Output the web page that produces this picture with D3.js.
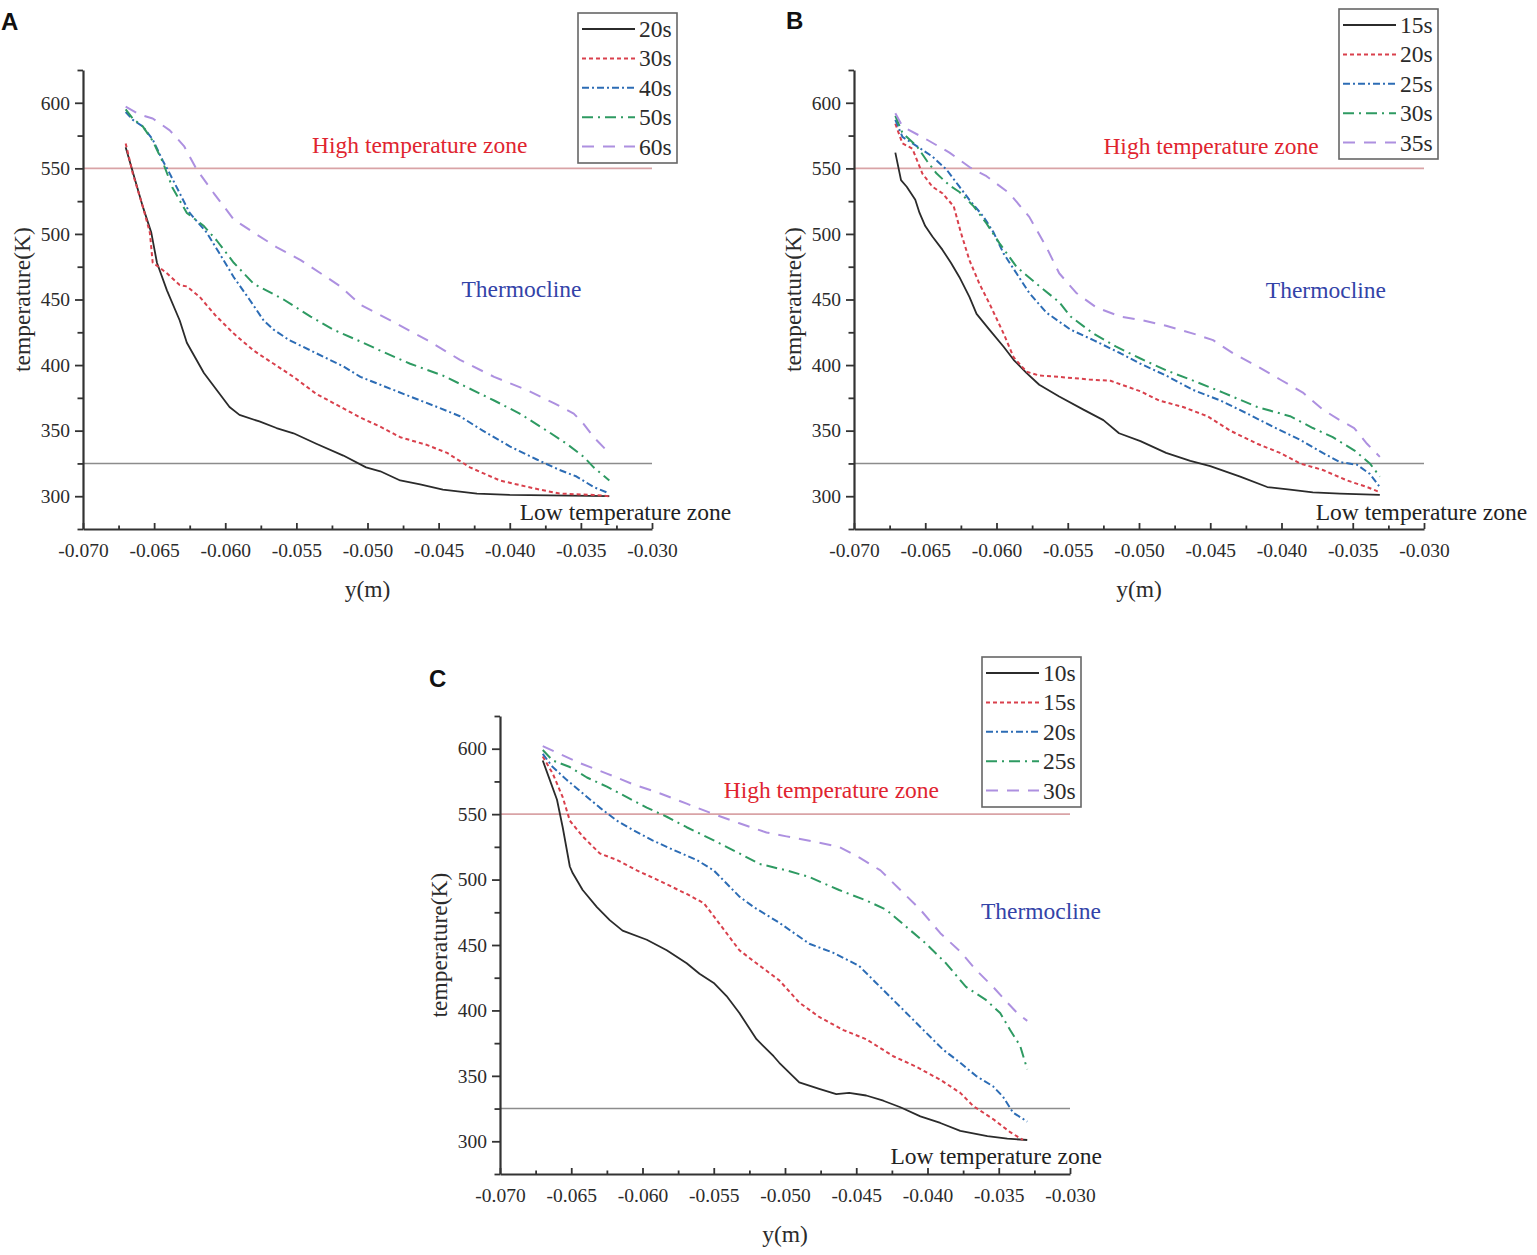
<!DOCTYPE html>
<html>
<head>
<meta charset="utf-8">
<script src="https://cdn.jsdelivr.net/npm/d3@7"></script>
<style>
    body { margin: 0; background: #fff; }
    svg text { font-family: "Liberation Serif", "Times New Roman", serif; fill: #2b2b2b; }
    .panel-letter { font-family: "Liberation Sans", Arial, sans-serif; font-weight: bold; fill: #111; }
</style>
</head>
<body>
<svg id="fig" width="1537" height="1255"></svg>
<script>
// axis values
var xDomain = [-0.070, -0.030];
var yDomain = [275, 625];
var xTicks = [-0.070, -0.065, -0.060, -0.055, -0.050, -0.045, -0.040, -0.035, -0.030];
var xTickLabels = ['-0.070', '-0.065', '-0.060', '-0.055', '-0.050', '-0.045', '-0.040', '-0.035', '-0.030'];
var yTicks = [300, 350, 400, 450, 500, 550, 600];
var highLimit = 550;
var lowLimit = 325;

// panel A : times and curves [y(m), T(K)]
var timesA = ['20s', '30s', '40s', '50s', '60s'];
var a20 = [[-0.0670,566],[-0.0658,521],[-0.0652,501],[-0.0648,478],[-0.0641,457],[-0.0632,434],[-0.0627,417],[-0.0615,394],[-0.0606,381],[-0.0597,368],[-0.0590,362],[-0.0576,357],[-0.0564,352],[-0.0552,348],[-0.0536,340],[-0.0517,331],[-0.0501,322],[-0.0491,319],[-0.0477,312],[-0.0463,309],[-0.0447,305],[-0.0423,302],[-0.0400,301],[-0.0330,300]];
var a30 = [[-0.0670,569],[-0.0665,546],[-0.0658,521],[-0.0653,501],[-0.0651,478],[-0.0647,475],[-0.0641,470],[-0.0632,461],[-0.0627,460],[-0.0618,452],[-0.0607,438],[-0.0594,424],[-0.0580,411],[-0.0566,401],[-0.0552,391],[-0.0536,378],[-0.0517,367],[-0.0505,360],[-0.0491,353],[-0.0477,345],[-0.0458,339],[-0.0444,333],[-0.0428,322],[-0.0407,312],[-0.0383,306],[-0.0365,302],[-0.0341,301],[-0.0330,300]];
var a40 = [[-0.0670,593],[-0.0665,587],[-0.0658,582],[-0.0651,572],[-0.0644,556],[-0.0639,546],[-0.0632,531],[-0.0625,516],[-0.0613,501],[-0.0604,485],[-0.0594,467],[-0.0583,450],[-0.0573,434],[-0.0566,427],[-0.0555,419],[-0.0536,409],[-0.0517,399],[-0.0505,391],[-0.0491,385],[-0.0470,376],[-0.0451,368],[-0.0435,361],[-0.0419,350],[-0.0400,338],[-0.0381,328],[-0.0365,320],[-0.0353,315],[-0.0341,307],[-0.0332,303]];
var a50 = [[-0.0670,595],[-0.0665,588],[-0.0658,582],[-0.0651,571],[-0.0644,555],[-0.0637,535],[-0.0627,516],[-0.0615,506],[-0.0606,495],[-0.0594,478],[-0.0580,462],[-0.0559,450],[-0.0540,437],[-0.0524,427],[-0.0505,418],[-0.0491,411],[-0.0470,401],[-0.0447,392],[-0.0430,383],[-0.0411,373],[-0.0393,363],[-0.0374,350],[-0.0360,340],[-0.0348,330],[-0.0341,322],[-0.0330,312]];
var a60 = [[-0.0670,597],[-0.0660,591],[-0.0651,588],[-0.0639,579],[-0.0629,567],[-0.0620,549],[-0.0608,531],[-0.0594,511],[-0.0580,501],[-0.0564,490],[-0.0547,480],[-0.0533,470],[-0.0519,460],[-0.0505,446],[-0.0482,433],[-0.0458,419],[-0.0435,404],[-0.0411,391],[-0.0388,381],[-0.0369,371],[-0.0355,363],[-0.0348,355],[-0.0341,345],[-0.0332,335]];

// panel B
var timesB = ['15s', '20s', '25s', '30s', '35s'];
var b15 = [[-0.0671,562],[-0.0667,541],[-0.0663,536],[-0.0657,526],[-0.0654,516],[-0.0650,506],[-0.0645,498],[-0.0638,488],[-0.0632,478],[-0.0626,467],[-0.0619,452],[-0.0614,439],[-0.0605,427],[-0.0595,414],[-0.0588,404],[-0.0579,394],[-0.0570,385],[-0.0556,376],[-0.0539,366],[-0.0525,358],[-0.0514,348],[-0.0499,342],[-0.0481,333],[-0.0464,327],[-0.0450,323],[-0.0429,315],[-0.0410,307],[-0.0394,305],[-0.0378,303],[-0.0359,302],[-0.0331,301]];
var b20 = [[-0.0671,584],[-0.0666,569],[-0.0659,565],[-0.0652,546],[-0.0645,536],[-0.0638,531],[-0.0630,521],[-0.0625,501],[-0.0619,480],[-0.0612,462],[-0.0605,447],[-0.0595,424],[-0.0588,406],[-0.0579,395],[-0.0570,392],[-0.0556,391],[-0.0535,389],[-0.0520,388],[-0.0499,380],[-0.0486,373],[-0.0469,368],[-0.0452,361],[-0.0436,350],[-0.0417,340],[-0.0401,333],[-0.0387,325],[-0.0371,320],[-0.0354,312],[-0.0340,307],[-0.0331,303]];
var b25 = [[-0.0671,587],[-0.0666,574],[-0.0656,567],[-0.0645,559],[-0.0635,549],[-0.0626,536],[-0.0619,526],[-0.0609,513],[-0.0602,501],[-0.0595,485],[-0.0586,470],[-0.0577,455],[-0.0565,440],[-0.0548,427],[-0.0532,419],[-0.0513,409],[-0.0499,401],[-0.0481,392],[-0.0462,381],[-0.0443,373],[-0.0424,363],[-0.0406,353],[-0.0387,343],[-0.0371,333],[-0.0359,326],[-0.0347,324],[-0.0338,317],[-0.0331,307]];
var b30 = [[-0.0671,590],[-0.0666,577],[-0.0656,567],[-0.0649,556],[-0.0642,546],[-0.0633,537],[-0.0626,532],[-0.0616,521],[-0.0607,508],[-0.0598,493],[-0.0586,475],[-0.0572,462],[-0.0556,448],[-0.0548,437],[-0.0532,424],[-0.0516,414],[-0.0499,405],[-0.0481,396],[-0.0464,389],[-0.0441,379],[-0.0417,368],[-0.0394,361],[-0.0378,352],[-0.0364,345],[-0.0349,335],[-0.0338,325],[-0.0331,315]];
var b35 = [[-0.0671,592],[-0.0666,582],[-0.0649,572],[-0.0633,562],[-0.0619,551],[-0.0607,544],[-0.0591,531],[-0.0577,513],[-0.0565,490],[-0.0556,470],[-0.0544,455],[-0.0530,444],[-0.0513,437],[-0.0497,434],[-0.0481,430],[-0.0462,424],[-0.0448,419],[-0.0434,409],[-0.0417,399],[-0.0401,389],[-0.0385,379],[-0.0371,366],[-0.0359,358],[-0.0349,352],[-0.0340,340],[-0.0331,330]];

// panel C
var timesC = ['10s', '15s', '20s', '25s', '30s'];
var c10 = [[-0.0670,591],[-0.0665,576],[-0.0660,561],[-0.0656,540],[-0.0651,510],[-0.0649,505],[-0.0642,492],[-0.0632,479],[-0.0623,469],[-0.0614,461],[-0.0597,454],[-0.0583,446],[-0.0569,436],[-0.0560,428],[-0.0550,421],[-0.0541,411],[-0.0532,398],[-0.0520,378],[-0.0508,365],[-0.0504,360],[-0.0490,345],[-0.0476,340],[-0.0464,336],[-0.0455,337],[-0.0443,335],[-0.0431,331],[-0.0419,326],[-0.0405,319],[-0.0391,314],[-0.0377,308],[-0.0358,304],[-0.0344,302],[-0.0330,301]];
var c15 = [[-0.0670,594],[-0.0663,581],[-0.0656,563],[-0.0651,545],[-0.0642,533],[-0.0630,520],[-0.0618,515],[-0.0604,507],[-0.0588,499],[-0.0569,489],[-0.0557,482],[-0.0550,472],[-0.0541,459],[-0.0532,446],[-0.0520,436],[-0.0504,423],[-0.0490,406],[-0.0476,395],[-0.0459,385],[-0.0443,378],[-0.0424,365],[-0.0408,357],[-0.0391,347],[-0.0377,337],[-0.0368,327],[-0.0354,317],[-0.0342,307],[-0.0333,301]];
var c20 = [[-0.0670,596],[-0.0663,586],[-0.0653,576],[-0.0642,566],[-0.0630,555],[-0.0618,545],[-0.0607,538],[-0.0593,530],[-0.0579,523],[-0.0562,515],[-0.0550,507],[-0.0541,497],[-0.0532,487],[-0.0522,479],[-0.0504,467],[-0.0483,451],[-0.0466,444],[-0.0448,434],[-0.0436,421],[-0.0424,408],[-0.0412,395],[-0.0401,383],[-0.0389,370],[-0.0377,360],[-0.0366,350],[-0.0354,342],[-0.0347,334],[-0.0340,322],[-0.0330,315]];
var c25 = [[-0.0670,599],[-0.0663,591],[-0.0651,586],[-0.0639,578],[-0.0625,571],[-0.0611,563],[-0.0597,555],[-0.0583,548],[-0.0569,540],[-0.0550,530],[-0.0532,520],[-0.0518,512],[-0.0499,507],[-0.0483,502],[-0.0462,492],[-0.0443,484],[-0.0429,477],[-0.0415,464],[-0.0401,451],[-0.0387,436],[-0.0373,418],[-0.0359,408],[-0.0349,398],[-0.0342,385],[-0.0335,373],[-0.0330,355]];
var c30 = [[-0.0670,602],[-0.0658,596],[-0.0644,589],[-0.0625,581],[-0.0607,573],[-0.0588,566],[-0.0569,558],[-0.0550,550],[-0.0532,543],[-0.0513,536],[-0.0499,533],[-0.0480,529],[-0.0462,525],[-0.0448,517],[-0.0433,507],[-0.0419,492],[-0.0405,477],[-0.0391,459],[-0.0377,445],[-0.0366,431],[-0.0354,418],[-0.0344,406],[-0.0337,398],[-0.0330,392]];

// line styles, one per curve slot
var styles = [
    { color: '#2b2b2b', dash: null, width: 1.8 },
    { color: '#d9404c', dash: '4,3', width: 2 },
    { color: '#2c6cb5', dash: '7,3,2,3', width: 2 },
    { color: '#2e9a62', dash: '11,5,2,5', width: 2 },
    { color: '#ad90e0', dash: '12,9', width: 2 }
];

var panels = [
    {
        letter: 'A', lx: 1, ly: 30,
        left: 83, top: 70, width: 569, height: 459,
        names: timesA, series: [a20, a30, a40, a50, a60],
        legend: { dx: 495, dy: -57 },
        high: [-0.0539, 562], thermo: [-0.0434, 452], low: [-0.0393, 282]
    },
    {
        letter: 'B', lx: 786, ly: 29,
        left: 854, top: 70, width: 570, height: 459,
        names: timesB, series: [b15, b20, b25, b30, b35],
        legend: { dx: 485, dy: -61 },
        high: [-0.0525, 561], thermo: [-0.0411, 451], low: [-0.0376, 282]
    },
    {
        letter: 'C', lx: 429, ly: 687,
        left: 500, top: 716, width: 570, height: 458,
        names: timesC, series: [c10, c15, c20, c25, c30],
        legend: { dx: 482, dy: -59 },
        high: [-0.0543, 562], thermo: [-0.03625, 470], low: [-0.0426, 283]
    }
];

var svg = d3.select('#fig');
var axisColor = '#333';
var fontSize = 23.5;

panels.forEach(function (p) {
    svg.append('text')
        .attr('class', 'panel-letter')
        .attr('x', p.lx)
        .attr('y', p.ly)
        .style('font-size', '24px')
        .text(p.letter);

    var x = d3.scaleLinear().domain(xDomain).range([0, p.width]);
    var y = d3.scaleLinear().domain(yDomain).range([p.height, 0]);

    var g = svg.append('g')
        .attr('transform', 'translate(' + p.left + ',' + p.top + ')');

    // zone limits
    g.append('line')
        .attr('x1', 0).attr('x2', p.width)
        .attr('y1', y(highLimit)).attr('y2', y(highLimit))
        .attr('stroke', '#d9a3a6').attr('stroke-width', 1.6);
    g.append('line')
        .attr('x1', 0).attr('x2', p.width)
        .attr('y1', y(lowLimit)).attr('y2', y(lowLimit))
        .attr('stroke', '#8c8c8c').attr('stroke-width', 1.6);

    // curves
    var line = d3.line()
        .x(function (d) { return x(d[0]); })
        .y(function (d) { return y(d[1]); });

    g.selectAll('path.curve')
        .data(p.series)
        .enter()
        .append('path')
        .attr('class', 'curve')
        .attr('d', line)
        .attr('fill', 'none')
        .attr('stroke', function (d, i) { return styles[i].color; })
        .attr('stroke-width', function (d, i) { return styles[i].width; })
        .attr('stroke-dasharray', function (d, i) { return styles[i].dash; })
        .attr('stroke-linejoin', 'round');

    // minor ticks
    var yMinor = d3.range(yDomain[0], yDomain[1] + 1, 50);
    var xMinor = d3.range(0, 8).map(function (i) { return -0.0675 + i * 0.005; });

    var yMinorAxis = g.append('g')
        .call(d3.axisLeft(y).tickValues(yMinor).tickSize(5.5).tickFormat(''));
    var xMinorAxis = g.append('g')
        .attr('transform', 'translate(0,' + p.height + ')')
        .call(d3.axisBottom(x).tickValues(xMinor).tickSize(-3.5).tickFormat(''));
    [yMinorAxis, xMinorAxis].forEach(function (a) {
        a.select('.domain').remove();
        a.selectAll('line').attr('stroke', axisColor).attr('stroke-width', 1.8);
    });

    // main axes
    var yAxis = g.append('g')
        .call(d3.axisLeft(y).tickValues(yTicks).tickSize(8).tickSizeOuter(0).tickPadding(5));
    var xAxis = g.append('g')
        .attr('transform', 'translate(0,' + p.height + ')')
        .call(d3.axisBottom(x).tickValues(xTicks).tickSize(-6).tickSizeOuter(0).tickPadding(14)
            .tickFormat(function (d, i) { return xTickLabels[i]; }));

    [yAxis, xAxis].forEach(function (a) {
        a.select('.domain').attr('stroke', axisColor).attr('stroke-width', 2.2);
        a.selectAll('.tick line').attr('stroke', axisColor).attr('stroke-width', 1.8);
        a.selectAll('.tick text')
            .attr('fill', axisColor)
            .style('font-family', '"Liberation Serif", "Times New Roman", serif')
            .style('font-size', '19.5px');
    });

    // axis titles
    g.append('text')
        .attr('transform', 'translate(-53,' + p.height / 2 + ') rotate(-90)')
        .attr('text-anchor', 'middle')
        .style('font-size', fontSize + 'px')
        .text('temperature(K)');
    g.append('text')
        .attr('x', p.width / 2)
        .attr('y', p.height + 68)
        .attr('text-anchor', 'middle')
        .style('font-size', fontSize + 'px')
        .text('y(m)');

    // zone annotations
    g.append('text')
        .attr('x', x(p.high[0])).attr('y', y(p.high[1]))
        .style('font-size', fontSize + 'px')
        .style('fill', '#e0242f')
        .text('High temperature zone');
    g.append('text')
        .attr('x', x(p.thermo[0])).attr('y', y(p.thermo[1]))
        .style('font-size', fontSize + 'px')
        .style('fill', '#3343a8')
        .text('Thermocline');
    g.append('text')
        .attr('x', x(p.low[0])).attr('y', y(p.low[1]))
        .style('font-size', fontSize + 'px')
        .style('fill', '#222')
        .text('Low temperature zone');

    // legend
    var lg = g.append('g')
        .attr('transform', 'translate(' + p.legend.dx + ',' + p.legend.dy + ')');
    lg.append('rect')
        .attr('width', 99).attr('height', 150)
        .attr('fill', 'none')
        .attr('stroke', '#666').attr('stroke-width', 1.6);

    var rows = lg.selectAll('g.row')
        .data(p.names)
        .enter()
        .append('g')
        .attr('class', 'row')
        .attr('transform', function (d, i) { return 'translate(0,' + (16 + i * 29.4) + ')'; });

    rows.append('line')
        .attr('x1', 4).attr('x2', 57)
        .attr('stroke', function (d, i) { return styles[i].color; })
        .attr('stroke-width', function (d, i) { return styles[i].width; })
        .attr('stroke-dasharray', function (d, i) { return styles[i].dash; });

    rows.append('text')
        .attr('x', 61)
        .attr('y', 8)
        .style('font-size', fontSize + 'px')
        .text(function (d) { return d; });
});
</script>
</body>
</html>
